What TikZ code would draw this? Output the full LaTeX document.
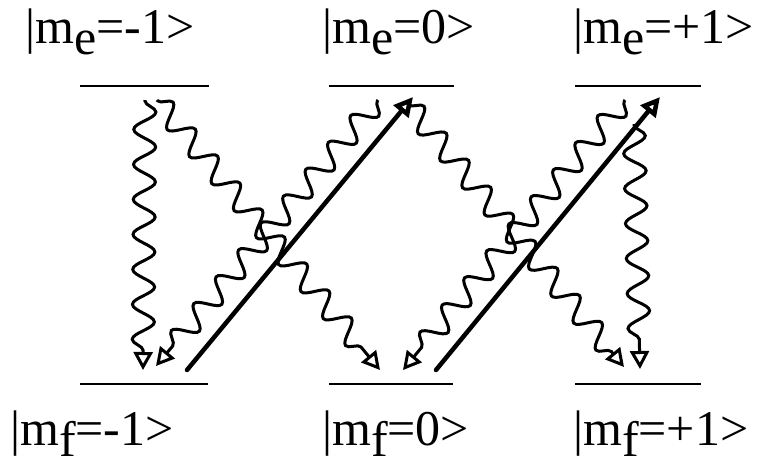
\documentclass[tikz,border=0pt]{standalone}
\usepackage{fontspec}
\setmainfont{Liberation Serif}
\usetikzlibrary{arrows.meta,decorations.pathmorphing}
\newcommand\lowsub[2]{\lower#1\hbox{#2}}
\begin{document}
\begin{tikzpicture}[x=1pt,y=-1pt,
  lvl/.style={line width=2.3pt},
  lbl/.style={anchor=base west, inner sep=0pt, font=\fontsize{50}{60}\selectfont},
  pump/.style={line width=4.5pt, line cap=round, -{Triangle[open,length=19pt,width=19pt]}},
  decay/.style={line width=3pt, decorate,
    decoration={snake, amplitude=11pt, segment length=35pt, post length=16pt, pre length=1pt},
    -{Triangle[open,length=18pt,width=19pt]}}]
\useasboundingbox (0,0) rectangle (758,467);
% levels
\coordinate (e1a) at (80,86);  \coordinate (e1b) at (209,86);
\coordinate (e2a) at (329,86); \coordinate (e2b) at (454,86);
\coordinate (e3a) at (575,86); \coordinate (e3b) at (701,86);
\coordinate (f1a) at (80,384);  \coordinate (f1b) at (208,384);
\coordinate (f2a) at (329,384); \coordinate (f2b) at (453,384);
\coordinate (f3a) at (575,384); \coordinate (f3b) at (701,384);
\draw[lvl] (e1a) -- (e1b);
\draw[lvl] (e2a) -- (e2b);
\draw[lvl] (e3a) -- (e3b);
\draw[lvl] (f1a) -- (f1b);
\draw[lvl] (f2a) -- (f2b);
\draw[lvl] (f3a) -- (f3b);
% labels
\node[lbl] (le1) at (25,43) {|m\lowsub{11pt}{e}=-1>};
\node[lbl] (le2) at (322,43) {|m\lowsub{11pt}{e}=0>};
\node[lbl] (le3) at (573,43) {|m\lowsub{11pt}{e}=+1>};
\node[lbl] (lf1) at (10,445) {|m\lowsub{11pt}{f}=-1>};
\node[lbl] (lf2) at (322,445) {|m\lowsub{11pt}{f}=0>};
\node[lbl] (lf3) at (573,445) {|m\lowsub{11pt}{f}=+1>};
% decay endpoints
\coordinate (s1) at (145,100); \coordinate (t1) at (143,370);
\coordinate (s2) at (157,100); \coordinate (t2) at (380,370);
\coordinate (s3) at (378,100); \coordinate (t3) at (156,366);
\coordinate (s4) at (408,104); \coordinate (t4) at (624,367);
\coordinate (s5) at (625,100); \coordinate (t5) at (403,370);
\coordinate (s6) at (634,124); \coordinate (t6) at (640,369);
\draw[decay] (s1) -- (t1);
\draw[decay] (s2) -- (t2);
\draw[decay] (s3) -- (t3);
\draw[decay] (s4) -- (t4);
\draw[decay] (s5) -- (t5);
\draw[decay] (s6) -- (t6);
% pump arrows
\coordinate (p1) at (187,370); \coordinate (q1) at (413,97);
\coordinate (p2) at (436,370); \coordinate (q2) at (660,97);
\draw[pump] (p1) -- (q1);
\draw[pump] (p2) -- (q2);
\end{tikzpicture}
\end{document}
